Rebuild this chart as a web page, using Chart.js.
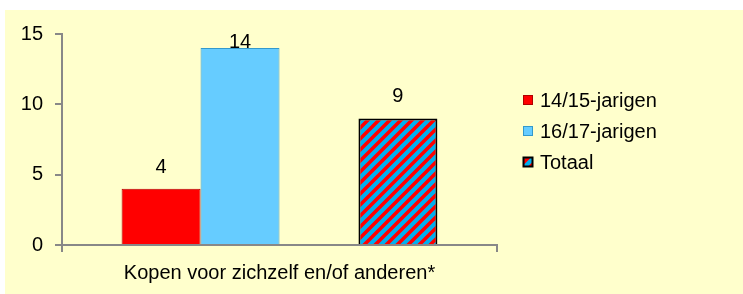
<!DOCTYPE html>
<html>
<head>
<meta charset="utf-8">
<script src="https://cdn.jsdelivr.net/npm/chart.js@4"></script>
<style>
  html, body { margin: 0; padding: 0; background: #fff; }
  #wrap {
    position: absolute; left: 5px; top: 10px;
    width: 738px; height: 284px;
    background: #FFFFCC;
  }
</style>
</head>
<body>
<div id="wrap"><canvas id="chart" width="738" height="284"></canvas></div>
<script>
// Data
const categories = ['Kopen voor zichzelf en/of anderen*'];
const seriesNames = ['14/15-jarigen', '16/17-jarigen', 'Totaal'];
const age1415 = [4];
const age1617 = [14];
const totaal = [9];
const yTicks = [0, 5, 10, 15];

const FONT = '"Liberation Sans", Arial, sans-serif';
Chart.defaults.font.family = FONT;
Chart.defaults.font.size = 20;
Chart.defaults.color = '#000';

// striped fill for the total bar
function stripes() {
    const s = 11;
    const c = document.createElement('canvas');
    c.width = s; c.height = s;
    const g = c.getContext('2d');
    g.fillStyle = '#00B0F0';
    g.fillRect(0, 0, s, s);
    g.strokeStyle = '#FF0000';
    g.lineWidth = 3.6;
    g.beginPath();
    g.moveTo(-2, 2); g.lineTo(2, -2);
    g.moveTo(0, s); g.lineTo(s, 0);
    g.moveTo(s - 2, s + 2); g.lineTo(s + 2, s - 2);
    g.stroke();
    return g.createPattern(c, 'repeat');
}
const stripeFill = stripes();

// value labels above bars
const valueLabels = {
    id: 'valueLabels',
    afterDatasetsDraw(chart) {
        const ctx = chart.ctx;
        ctx.save();
        ctx.font = '20px ' + FONT;
        ctx.fillStyle = '#000';
        ctx.textAlign = 'center';
        ctx.textBaseline = 'alphabetic';
        chart.data.datasets.forEach((ds, i) => {
            if (ds.spacer) return;
            chart.getDatasetMeta(i).data.forEach((bar, j) => {
                const v = ds.data[j];
                if (v == null) return;
                const y = Math.max(bar.y - 16, chart.chartArea.top + 14);
                ctx.fillText(String(v), bar.x, y);
            });
        });
        ctx.restore();
    }
};

// legend drawn to the right
const sideLegend = {
    id: 'sideLegend',
    afterDraw(chart) {
        const ctx = chart.ctx;
        ctx.save();
        ctx.font = '20px ' + FONT;
        ctx.textBaseline = 'middle';
        ctx.textAlign = 'left';
        let y = 90;
        chart.data.datasets.forEach(ds => {
            if (ds.spacer) return;
            ctx.fillStyle = ds.backgroundColor;
            ctx.fillRect(518, y - 5, 10, 10);
            ctx.strokeStyle = ds.borderColor;
            ctx.lineWidth = ds.borderWidth > 1 ? 2 : 1;
            ctx.strokeRect(518.5, y - 4.5, 9, 9);
            ctx.fillStyle = '#000';
            ctx.fillText(ds.label, 535, y + 1);
            y += 31;
        });
        ctx.restore();
    }
};

new Chart(document.getElementById('chart'), {
    type: 'bar',
    data: {
        labels: categories,
        datasets: [
            { label: seriesNames[0], data: age1415, backgroundColor: '#FF0000', borderColor: '#B00000', borderWidth: 1 },
            { label: seriesNames[1], data: age1617, backgroundColor: '#66CCFF', borderColor: '#3399CC', borderWidth: 1 },
            { label: '', data: [null], spacer: true, backgroundColor: 'rgba(0,0,0,0)' },
            { label: seriesNames[2], data: totaal, backgroundColor: stripeFill, borderColor: '#000', borderWidth: 2 }
        ]
    },
    options: {
        responsive: false,
        animation: false,
        events: [],
        categoryPercentage: 0.726,
        barPercentage: 1,
        layout: { padding: { left: 0, top: 24, right: 246, bottom: 0 } },
        plugins: {
            legend: { display: false },
            tooltip: { enabled: false }
        },
        scales: {
            x: {
                grid: { offset: true, drawOnChartArea: false, tickLength: 7, color: '#888', lineWidth: 2 },
                border: { color: '#888', width: 2 },
                ticks: { padding: 9, font: { size: 20 }, color: '#000' },
                afterFit(scale) { scale.height = 49; }
            },
            y: {
                min: 0,
                max: 15,
                afterBuildTicks(scale) { scale.ticks = yTicks.map(v => ({ value: v })); },
                grid: { drawOnChartArea: false, tickLength: 7, color: '#888', lineWidth: 2 },
                border: { color: '#888', width: 2 },
                ticks: { padding: 12, font: { size: 20 }, color: '#000' },
                afterFit(scale) { scale.width = 57; }
            }
        }
    },
    plugins: [valueLabels, sideLegend]
});
</script>
</body>
</html>
